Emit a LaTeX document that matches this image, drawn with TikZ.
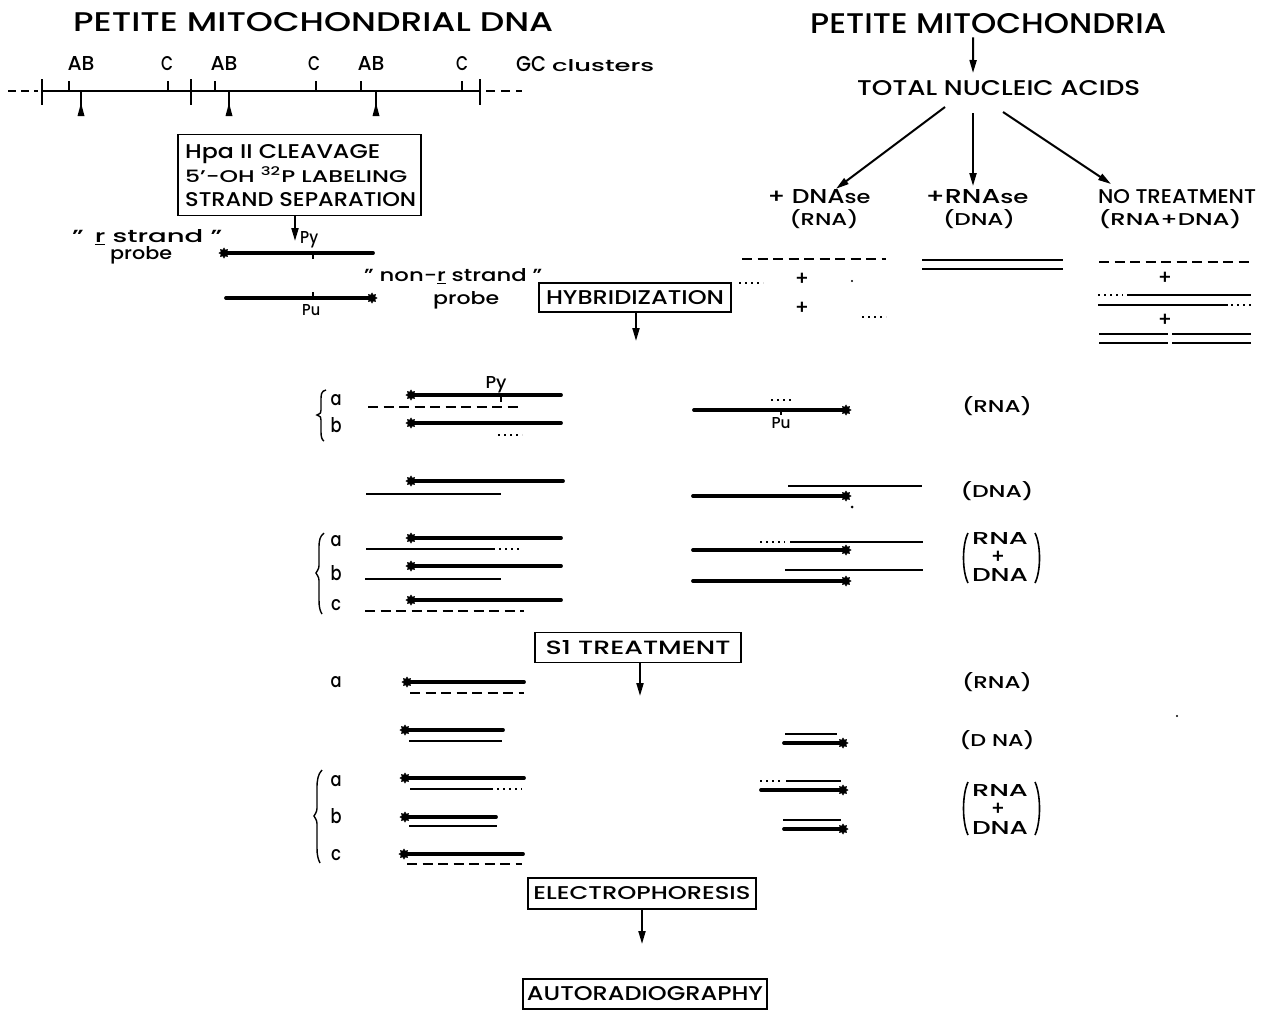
\documentclass[tikz,border=0pt]{standalone}
\usepackage{fontspec}
\setmainfont{Poppins}[UprightFont={* Medium}]
\usetikzlibrary{arrows.meta,shapes.geometric}
\newcommand{\fitt}[3]{\resizebox{#1pt}{#2pt}{#3}}
\begin{document}
\begin{tikzpicture}[x=1pt,y=-1pt,
  thk/.style={line width=3.8pt, line cap=round},
  thn/.style={line width=1.7pt},
  dsh/.style={line width=1.7pt, dash pattern=on 10pt off 5.5pt},
  dts/.style={line width=2.2pt, dash pattern=on 2.2pt off 3.8pt},
  tickl/.style={line width=1.5pt},
  arr/.style={line width=2pt, -{Triangle[length=13pt,width=7pt]}},
  pbox/.style={draw, line width=1.6pt, inner sep=0pt, rectangle},
  txt/.style={inner sep=0pt, anchor=base west},
  ctxt/.style={inner sep=0pt, anchor=base},
  plus/.style={inner sep=0pt, anchor=center, font=\fontsize{20pt}{20pt}\selectfont},
  blob/.style={star, star points=8, star point ratio=1.6, fill, draw, line width=0.5pt, inner sep=0pt, minimum size=10pt},
  paren/.style={line width=1.6pt},
]
\useasboundingbox (0,0) rectangle (1268,1009);

% ---------- left title and map ----------
\node[txt] (tl) at (73,31) {\fitt{480}{19}{PETITE MITOCHONDRIAL DNA}};
\draw[line width=2pt, dash pattern=on 8pt off 5pt] (8,91) -- (38,91);
\draw[line width=2.2pt] (42,91) -- (480,91);
\draw[line width=2pt, dash pattern=on 9pt off 6pt] (486,91) -- (522,91);
\foreach \x in {42,191,480} \draw[tickl] (\x,79) -- (\x,105);
\foreach \x in {69,168,215,316,361,462} \draw[tickl] (\x,81) -- (\x,91);
\foreach \x in {81,229,376} {
  \draw[tickl] (\x,91) -- (\x,110);
  \fill (\x-3.5,116) -- (\x+3.5,116) -- (\x,103) -- cycle;
}
\node[ctxt] (ab1) at (81,70) {\fitt{27}{14}{AB}};
\node[ctxt] (c1) at (167,70) {\fitt{12}{14}{C}};
\node[ctxt] (ab2) at (224,70) {\fitt{27}{14}{AB}};
\node[ctxt] (c2) at (314,70) {\fitt{12}{14}{C}};
\node[ctxt] (ab3) at (371,70) {\fitt{27}{14}{AB}};
\node[ctxt] (c3) at (462,70) {\fitt{12}{14}{C}};
\node[txt] (gc) at (516,71) {\fitt{30}{15}{GC}};
\node[txt] (cl) at (552,71) {\fitt{102}{12}{clusters}};

% ---------- Hpa II box ----------
\node[pbox, minimum width=243pt, minimum height=81pt] (hpa) at (299.5,175) {};
\node[txt] (h1) at (185,158) {\fitt{195}{14}{Hpa II CLEAVAGE}};
\node[txt] (h2) at (185,182) {\fitt{222}{15}{5'-OH \textsuperscript{32}P LABELING}};
\node[txt] (h3) at (185,206) {\fitt{231}{14}{STRAND SEPARATION}};
\coordinate (pyend) at (295,241);
\draw[arr] (hpa.south -| pyend) -- (pyend);
\node[txt] (py1) at (300,243) {\fitt{18}{12}{Py}};

% probes
\node[txt] (rs) at (72,242) {\fitt{150}{13}{"\hspace{0.4em}\underline{r} strand "}};
\node[txt] (pr1) at (110,259) {\fitt{62}{13}{probe}};
\draw[thk] (224,253) -- (373,253);
\node[blob] (rb) at (224,253) {};
\draw[tickl] (313,253) -- (313,259);

\draw[thk] (226,298) -- (372,298);
\node[blob] (nb) at (372,298) {};
\draw[tickl] (313,292) -- (313,298);
\node[txt] (pu1) at (302,315) {\fitt{18}{11}{Pu}};
\node[txt] (nr) at (364,281) {\fitt{178}{13}{" non-\underline{r} strand "}};
\node[txt] (pr2) at (433,304) {\fitt{66}{13}{probe}};

% ---------- Hybridization ----------
\node[pbox, minimum width=192pt, minimum height=29pt] (hyb) at (635,297.5) {\fitt{178}{14}{HYBRIDIZATION}};
\coordinate (hybend) at (636,341);
\draw[arr] (hyb.south -| hybend) -- (hybend);

% ---------- right top ----------
\node[txt] (tr) at (810,33) {\fitt{356}{20}{PETITE MITOCHONDRIA}};
\node[txt] (tna) at (857,95) {\fitt{283}{15}{TOTAL NUCLEIC ACIDS}};
\draw[arr] ([xshift=-15pt]tr.south) ++(0,4) -- (973,73);
\node[ctxt] (dn) at (819,203) {\fitt{103}{14}{+ DNA{\small se}}};
\node[ctxt] (dnr) at (824,225) {\fitt{69}{16}{(RNA)}};
\node[ctxt] (rn) at (977,203) {\fitt{103}{14}{+RNA{\small se}}};
\node[ctxt] (rnd) at (979,225) {\fitt{72}{16}{(DNA)}};
\node[ctxt] (nt) at (1177,203) {\fitt{158}{14}{NO TREATMENT}};
\node[ctxt] (ntr) at (1170,225) {\fitt{143}{16}{(RNA+DNA)}};
\draw[arr] (945,107) -- (dn.north -| 836,0) ;
\draw[arr] (973,113) -- (973,186);
\draw[arr] (1003,112) -- (1111,184);

\draw[dsh] (742,259) -- (886,259);
\draw[dts] (739,283) -- (763,283);
\node[plus] (p1) at (802,279) {+};
\fill (852,281) circle (1.2pt);
\node[plus] (p2) at (802,308) {+};
\draw[dts] (862,317) -- (886,317);

\draw[line width=2.4pt] (922,260) -- (1063,260);
\draw[line width=2.4pt] (922,269) -- (1063,269);

\draw[dsh] (1099,262) -- (1249,262);
\node[plus] (p3) at (1165,278) {+};
\draw[dts] (1098,295) -- (1123,295);
\draw[line width=2.4pt] (1127,295) -- (1251,295);
\draw[line width=2.4pt] (1098,305) -- (1228,305);
\draw[dts] (1231,305) -- (1251,305);
\node[plus] (p4) at (1165,320) {+};
\draw[line width=2.4pt] (1099,334) -- (1168,334);
\draw[line width=2.4pt] (1172,334) -- (1251,334);
\draw[line width=2.4pt] (1099,343) -- (1168,343);
\draw[line width=2.4pt] (1172,343) -- (1251,343);

% ---------- hybrid results ----------
\draw[line width=1.4pt] (326,390) .. controls (321,391) and (321,395) .. (321,400) -- (321,410)
  .. controls (321,413) .. (317,415) .. controls (321,417) .. (321,420) -- (321,432)
  .. controls (321,437) and (322,440) .. (324,441);
\node[ctxt] (la1) at (336,405) {\fitt{11}{11}{a}};
\node[ctxt] (lb1) at (336,432) {\fitt{11}{15}{b}};

\draw[thk] (411,395) -- (561,395); \node[blob] at (411,395) {};
\draw[tickl] (501,395) -- (501,402);
\node[ctxt] (py2) at (496,388) {\fitt{21}{12}{Py}};
\draw[dsh] (368,407) -- (520,407);
\draw[thk] (411,423) -- (561,423); \node[blob] at (411,423) {};
\draw[dts] (498,435) -- (522,435);

\draw[thk] (694,410) -- (846,410); \node[blob] at (846,410) {};
\draw[dts] (771,400) -- (792,400);
\draw[tickl] (781,410) -- (781,415);
\node[ctxt] (pu2) at (781,428) {\fitt{19}{11}{Pu}};
\node[ctxt] (rl1) at (997,412) {\fitt{70}{16}{(RNA)}};

\draw[thk] (411,481) -- (563,481); \node[blob] at (411,481) {};
\draw[thn] (366,494) -- (501,494);
\draw[thn] (788,486) -- (922,486);
\draw[thk] (693,496) -- (846,496); \node[blob] at (846,496) {};
\fill (852,507) circle (1.5pt);
\node[ctxt] (rl2) at (997,497) {\fitt{73}{16}{(DNA)}};

\draw[line width=1.4pt] (324,533) .. controls (320,536) and (319,540) .. (319,548) -- (319,563)
  .. controls (319,568) .. (316,573) .. controls (319,578) .. (319,583) -- (319,600)
  .. controls (319,607) and (320,611) .. (322,614);
\node[ctxt] (la2) at (336,546) {\fitt{11}{11}{a}};
\node[ctxt] (lb2) at (336,580) {\fitt{11}{15}{b}};
\node[ctxt] (lc2) at (336,610) {\fitt{10}{11}{c}};

\draw[thk] (411,538) -- (561,538); \node[blob] at (411,538) {};
\draw[thn] (366,549) -- (495,549); \draw[dts] (499,549) -- (522,549);
\draw[thk] (411,566) -- (561,566); \node[blob] at (411,566) {};
\draw[thn] (365,579) -- (501,579);
\draw[thk] (411,600) -- (561,600); \node[blob] at (411,600) {};
\draw[dsh] (365,611) -- (524,611);

\draw[dts] (760,542) -- (785,542); \draw[thn] (790,542) -- (923,542);
\draw[thk] (693,550) -- (846,550); \node[blob] at (846,550) {};
\draw[thn] (785,570) -- (923,570);
\draw[thk] (693,581) -- (846,581); \node[blob] at (846,581) {};

\node[ctxt] (g1r) at (1000,544) {\fitt{56}{12}{RNA}};
\node[plus] (g1p) at (998,557) {+};
\node[ctxt] (g1d) at (1000,581) {\fitt{56}{13}{DNA}};
\draw[paren] (968,533) .. controls (962,545) and (962,571) .. (968,583);
\draw[paren] (1035,533) .. controls (1041,545) and (1041,571) .. (1035,583);

% ---------- S1 ----------
\node[pbox, minimum width=206pt, minimum height=30pt] (s1) at (638,647.5) {\fitt{185}{14}{S1 TREATMENT}};
\coordinate (s1end) at (640,696);
\draw[arr] (s1.south -| s1end) -- (s1end);

\node[ctxt] (la3) at (336,687) {\fitt{11}{11}{a}};
\draw[thk] (407,682) -- (524,682); \node[blob] at (407,682) {};
\draw[dsh] (410,693) -- (524,693);
\node[ctxt] (rl3) at (997,688) {\fitt{70}{16}{(RNA)}};

\draw[thk] (405,730) -- (503,730); \node[blob] at (405,730) {};
\draw[thn] (409,741) -- (502,741);
\draw[thn] (785,734) -- (837,734);
\draw[thk] (784,743) -- (843,743); \node[blob] at (843,743) {};
\node[ctxt] (rl4) at (997,746) {\fitt{75}{16}{(D NA)}};

\draw[line width=1.4pt] (322,770) .. controls (318,774) and (317,780) .. (317,788) -- (317,805)
  .. controls (317,811) .. (314,816) .. controls (317,821) .. (317,827) -- (317,848)
  .. controls (317,855) and (318,859) .. (320,863);
\node[ctxt] (la4) at (336,786) {\fitt{11}{11}{a}};
\node[ctxt] (lb4) at (336,823) {\fitt{11}{15}{b}};
\node[ctxt] (lc4) at (336,860) {\fitt{10}{11}{c}};

\draw[thk] (405,778) -- (524,778); \node[blob] at (405,778) {};
\draw[thn] (410,789) -- (493,789); \draw[dts] (497,789) -- (522,789);
\draw[thk] (405,817) -- (496,817); \node[blob] at (405,817) {};
\draw[thn] (409,826) -- (497,826);
\draw[thk] (404,854) -- (523,854); \node[blob] at (404,854) {};
\draw[dsh] (407,864) -- (522,864);

\draw[dts] (760,781) -- (783,781); \draw[thn] (786,781) -- (841,781);
\draw[thk] (761,790) -- (843,790); \node[blob] at (843,790) {};
\draw[thn] (783,820) -- (841,820);
\draw[thk] (784,829) -- (843,829); \node[blob] at (843,829) {};

\node[ctxt] (g2r) at (1000,796) {\fitt{56}{12}{RNA}};
\node[plus] (g2p) at (998,809) {+};
\node[ctxt] (g2d) at (1000,834) {\fitt{56}{13}{DNA}};
\draw[paren] (968,782) .. controls (962,795) and (962,822) .. (968,835);
\draw[paren] (1035,782) .. controls (1041,795) and (1041,822) .. (1035,835);

\fill (1177,716) circle (1.2pt);

% ---------- bottom ----------
\node[pbox, minimum width=228pt, minimum height=31pt] (el) at (642,893.5) {\fitt{217}{13}{ELECTROPHORESIS}};
\node[pbox, minimum width=244pt, minimum height=30pt] (au) at (645,994) {\fitt{236}{14}{AUTORADIOGRAPHY}};
\coordinate (elend) at (642,944);
\draw[arr] (el.south -| elend) -- (elend);
\end{tikzpicture}
\end{document}
